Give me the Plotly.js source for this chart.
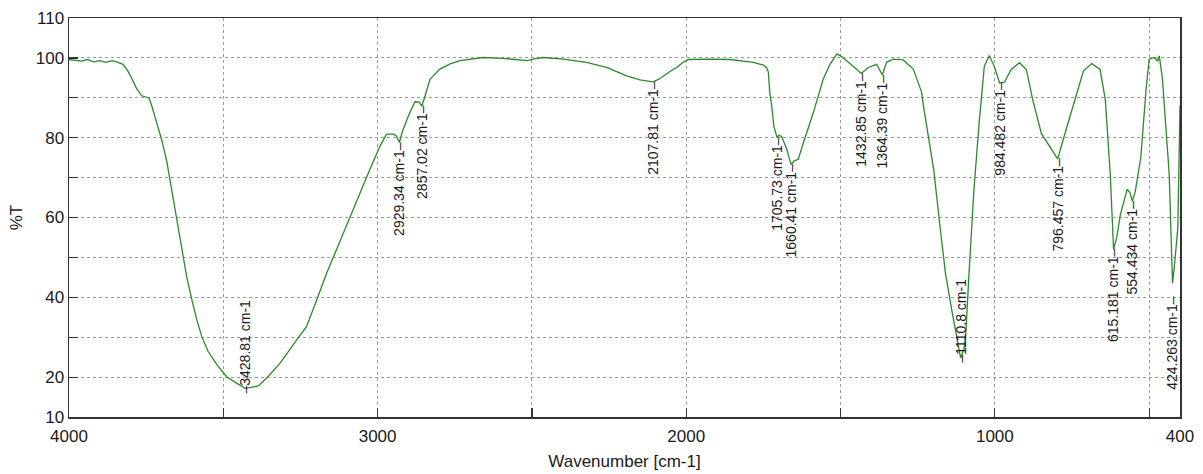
<!DOCTYPE html>
<html>
<head>
<meta charset="utf-8">
<script src="https://cdn.plot.ly/plotly-3.0.1.min.js"></script>
<style>html,body{margin:0;padding:0;background:#fff;}#chart{width:1203px;height:474px;}</style>
</head>
<body>
<div id="chart"></div>
<script>
// Spectrum (wavenumber cm-1, %T)
const wavenumber = [4000,3980,3960,3940,3920,3900,3880,3860,3845,3825,3810,3797,3781,3764,3750,3740,3732,3716,3700,3683,3667,3651,3635,3619,3602,3586,3570,3549,3521,3489,3457,3428.81,3410,3387,3360,3316,3262,3230,3197,3165,3133,3089,3057,3025,2992,2971,2949,2940,2929.34,2920,2900,2879,2865,2857.02,2850,2830,2798,2765,2733,2658,2593,2540,2515,2490,2463,2398,2323,2258,2193,2150,2120,2107.81,2090,2074,2050,2031,2010,1993,1923,1858,1816,1783,1750,1740,1734,1729,1723,1716,1705.73,1700,1691,1674,1665,1660.41,1650,1637,1620,1588,1556,1534,1512,1500,1480,1453,1432.85,1410,1383,1364.39,1351,1329,1297,1264,1237,1231,1215,1198,1178,1160,1140,1122,1110.8,1100,1094,1084,1068,1051,1034,1018,1002,984.482,969,947,920,898,877,849,828,810,796.457,773,740,713,686,659,642,626,615.181,605,593,571,562,554.434,545,527,510,500,484,472,467,457,435,424.263,418,407,400];
const transmittance = [99.6,99.4,99.2,99.6,99.0,99.3,98.9,99.3,99.0,98.4,96.8,94.9,92.3,90.5,90.2,89.9,88.0,83.8,79.6,74.0,67.0,59.5,52.0,45.3,39.4,34.4,30.2,26.4,23.1,20.1,18.5,17.2,17.4,17.8,19.7,23.5,29.3,32.7,39.4,46.1,52.0,60.3,66.2,72.1,77.9,80.9,80.9,80.5,78.8,81.5,85.5,89.0,88.9,87.9,89.5,94.7,97.2,98.5,99.3,100.1,99.9,99.4,99.3,99.8,100.1,99.7,98.9,97.6,95.5,94.5,94.1,94.0,94.6,95.5,96.7,97.6,98.9,99.6,99.7,99.6,99.3,98.9,98.2,97.6,96.5,91.0,88.0,82.9,80.0,80.6,80.3,77.1,74.5,73.3,74.2,74.6,78.8,86.3,94.7,98.4,101.0,100.5,99.3,97.6,96.1,97.6,98.4,95.7,98.9,99.7,99.5,97.2,91.3,87.8,80.0,72.0,58.0,46.0,37.0,30.0,24.8,27.0,31.0,45.5,66.7,83.6,97.9,100.6,97.9,93.7,93.9,97.1,98.8,97.1,89.5,81.0,78.5,76.5,74.7,81.0,89.5,96.7,98.6,97.1,89.5,70.9,52.0,55.0,60.8,67.1,66.2,64.1,66.5,75.1,92.0,99.6,100.1,99.2,100.5,94.8,70.9,43.5,48.0,57.4,88.0];

// Peak labels
const peakWn = [3428.81,2929.34,2857.02,2107.81,1705.73,1660.41,1432.85,1364.39,1110.8,984.482,796.457,615.181,554.434,424.263];
const peakT = [17.2,78.8,87.9,94.0,80.0,73.3,96.1,95.7,24.8,93.7,74.7,52.0,64.1,40.0];
const peakSide = ['above','below','below','below','below','below','below','below','above','below','below','below','below','below'];

const xTickVals = [4000,3000,2000,1000,400];
const xTickText = ['4000','3000','2000','1000','400'];
const xMinorVals = [3500,2500,1500,500];
const yTickVals = [10,20,40,60,80,100,110];
const yMinorVals = [30,50,70,90];

const trace = {
  x: wavenumber, y: transmittance, type:'scatter', mode:'lines',
  line:{color:'#2a8a2a', width:1.3}, hoverinfo:'skip'
};

const annotations = peakWn.map((w,i)=>{
  const above = peakSide[i]==='above';
  const label = w + ' cm-1';
  return {
    x:w, y:peakT[i], xref:'x', yref:'y', showarrow:false,
    text: above ? ('\u2013' + label) : (label + '\u2013'),
    textangle:-90,
    xanchor:'center', yanchor: above ? 'bottom' : 'top',
    yshift: above ? -7 : 3,
    font:{family:'Liberation Sans, Arial, sans-serif', size:14, color:'#1a1a1a'}
  };
});

const gridStyle = {showgrid:true, gridcolor:'#9a9a9a', griddash:'dot', gridwidth:1};

const layout = {
  width:1203, height:474,
  margin:{l:69, r:23, t:18, b:57},
  paper_bgcolor:'#ffffff', plot_bgcolor:'#ffffff',
  showlegend:false,
  font:{family:'Liberation Sans, Arial, sans-serif', size:17, color:'#1a1a1a'},
  xaxis:Object.assign({
    range:[4000,400], tickmode:'array', tickvals:xTickVals, ticktext:xTickText,
    ticks:'inside', ticklen:9, tickcolor:'#333', tickwidth:1.2, ticklabelstandoff:3,
    showline:true, mirror:true, linecolor:'#333', linewidth:1.5, zeroline:false,
    minor:Object.assign({tickvals:xMinorVals, ticks:'inside', ticklen:9, tickcolor:'#333', tickwidth:1.2}, gridStyle),
    title:{text:'Wavenumber [cm-1]', standoff:10, font:{size:17}}
  }, gridStyle),
  yaxis:Object.assign({
    range:[10,110], tickmode:'array', tickvals:yTickVals,
    ticks:'inside', ticklen:9, tickcolor:'#333', tickwidth:1.2,
    showline:true, mirror:true, linecolor:'#333', linewidth:1.5, zeroline:false,
    minor:Object.assign({tickvals:yMinorVals, ticks:'inside', ticklen:9, tickcolor:'#333', tickwidth:1.2}, gridStyle),
    title:{text:'%T', standoff:9, font:{size:17}}
  }, gridStyle),
  annotations: annotations
};

Plotly.newPlot('chart', [trace], layout, {displayModeBar:false, staticPlot:true});
</script>
</body>
</html>
